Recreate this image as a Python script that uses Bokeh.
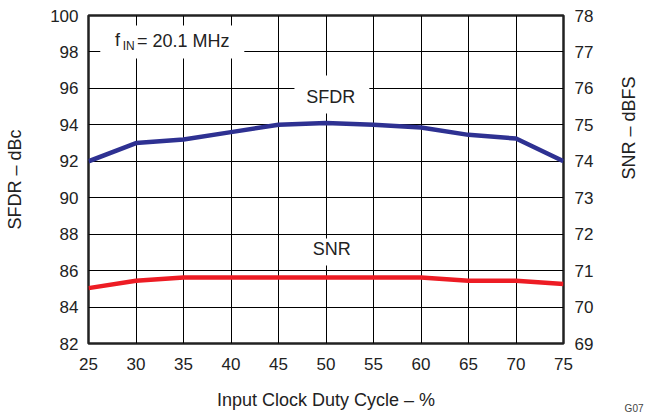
import numpy as np
from bokeh.plotting import figure
from bokeh.models import Range1d, LinearAxis, FixedTicker, Label, BoxAnnotation, Title
from bokeh.embed import file_html
from bokeh.resources import INLINE

duty = [25, 30, 35, 40, 45, 50, 55, 60, 65, 70, 75]
sfdr = [92.0, 93.0, 93.2, 93.6, 94.0, 94.1, 94.0, 93.85, 93.45, 93.25, 92.0]
snr = [70.52, 70.72, 70.81, 70.81, 70.81, 70.81, 70.81, 70.81, 70.72, 70.72, 70.63]
x_ticks = [25, 30, 35, 40, 45, 50, 55, 60, 65, 70, 75]
left_ticks = [82, 84, 86, 88, 90, 92, 94, 96, 98, 100]
right_ticks = [69, 70, 71, 72, 73, 74, 75, 76, 77, 78]

FONT = "Liberation Sans"
FS = "17px"
LFS = "18px"

p = figure(width=652, height=413, x_range=Range1d(25, 75), y_range=Range1d(82, 100),
           output_backend="svg", toolbar_location=None,
           min_border_left=88, min_border_right=82, min_border_top=15, min_border_bottom=70)
p.extra_y_ranges = {"snr": Range1d(69, 78)}
p.background_fill_color = "white"
p.outline_line_color = "#222222"
p.outline_line_width = 2.5

right = LinearAxis(y_range_name="snr")
p.add_layout(right, "right")

p.xaxis.ticker = FixedTicker(ticks=x_ticks)
p.yaxis[0].ticker = FixedTicker(ticks=left_ticks)
right.ticker = FixedTicker(ticks=right_ticks)

for ax in [p.xaxis[0], p.yaxis[0], right]:
    ax.axis_line_color = None
    ax.major_tick_line_color = None
    ax.minor_tick_line_color = None
    ax.major_tick_out = 0
    ax.major_tick_in = 0
    ax.minor_tick_out = 0
    ax.minor_tick_in = 0
    ax.major_label_text_font = FONT
    ax.major_label_text_font_size = FS
    ax.major_label_text_color = "#222222"
    ax.major_label_standoff = 10
    ax.axis_label_text_font = FONT
    ax.axis_label_text_font_size = LFS
    ax.axis_label_text_font_style = "normal"
    ax.axis_label_text_color = "#222222"

p.xaxis.axis_label = "Input Clock Duty Cycle – %"
p.xaxis.major_label_standoff = 14
p.xaxis.axis_label_standoff = 17
p.yaxis[0].axis_label = "SFDR – dBc"
p.yaxis[0].axis_label_standoff = 22
right.axis_label = "SNR – dBFS"
right.axis_label_orientation = np.pi / 2
right.major_label_standoff = 11
right.axis_label_standoff = 33

g07 = Title(text="G07", align="right", vertical_align="top", offset=-80, standoff=-20,
            text_font=FONT, text_font_size="10px", text_font_style="normal", text_color="#444444")
p.add_layout(g07, "below")

p.xgrid.ticker = FixedTicker(ticks=x_ticks)
p.ygrid.ticker = FixedTicker(ticks=left_ticks)
for g in [p.xgrid[0], p.ygrid[0]]:
    g.grid_line_color = "black"
    g.grid_line_alpha = 1.0
    g.grid_line_width = 1

# white boxes behind annotations
for (l, r, b, t) in [(26.24, 41.4, 97.64, 99.45), (46.68, 54.56, 94.62, 96.71), (47.5, 53.7, 86.28, 87.76)]:
    p.add_layout(BoxAnnotation(left=l, right=r, bottom=b, top=t, fill_color="white",
                               fill_alpha=1.0, line_color=None, level="annotation"))

p.line(duty, sfdr, line_color="#2E3192", line_width=4.5)
p.line(duty, snr, line_color="#ED1C24", line_width=4.5, y_range_name="snr")

def lab(x, y, text, size=LFS, align="left", color="#222222", units="data"):
    lb = Label(x=x, y=y, text=text, text_font=FONT, text_font_size=size, text_align=align,
               text_baseline="middle", text_color=color, x_units=units, y_units=units)
    p.add_layout(lb)

lab(27.8, 98.63, "f")
lab(28.6, 98.33, "IN", size="12px")
lab(30.1, 98.6, "= 20.1 MHz")
lab(50.5, 95.55, "SFDR", align="center")
lab(50.6, 87.2, "SNR", align="center")

open("out.html", "w").write(file_html(p, INLINE))
